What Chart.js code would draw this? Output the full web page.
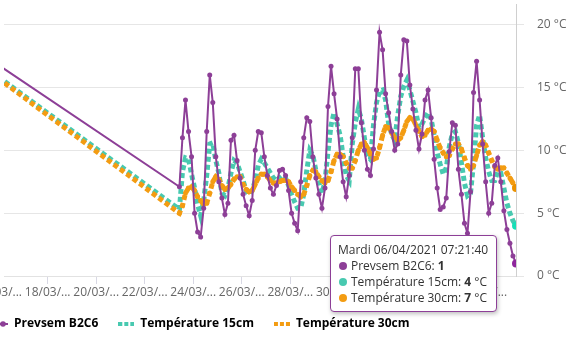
<!DOCTYPE html>
<html>
<head>
<meta charset="utf-8">
<script src="https://cdn.jsdelivr.net/npm/chart.js@4.4.1/dist/chart.umd.min.js"></script>
<style>
    body { margin: 0; background: #fff; }
    #wrap { position: relative; width: 576px; height: 341px; overflow: hidden; }
    #tip {
        position: absolute;
        opacity: 0;
        background: #fff;
        border: 1px solid #8d3f97;
        border-radius: 4px;
        box-shadow: 1px 2px 4px rgba(0, 0, 0, 0.25);
        padding: 6px 8px 5px 7px;
        font: 12px 'Open Sans', sans-serif;
        line-height: 16px;
        color: #333;
        white-space: nowrap;
        pointer-events: none;
    }
    #tip .dot { display: inline-block; width: 8px; height: 8px; border-radius: 50%; margin: 0 4px 0 1px; }
</style>
</head>
<body>
<div id="wrap">
    <canvas id="releves"></canvas>
    <div id="tip"></div>
</div>
<script>
'use strict'

// relevés toutes les 3 h du 23/03 10:21:40 au 06/04 07:21:40,
// précédés du dernier relevé de la période d'avant (hors fenêtre)
var releveAnterieur = Date.UTC(2021, 2, 15, 10, 21, 40);
var premierReleve = Date.UTC(2021, 2, 23, 10, 21, 40);
var pas = 3 * 3600 * 1000;

var prevsem = [17.5,
    7.1, 11.0, 14.0, 11.5, 9.5, 5.0, 3.5, 3.1,
    5.4, 11.5, 16.0, 13.8, 9.5, 7.5, 6.2, 4.9,
    5.8, 10.8, 11.2, 9.2, 7.8, 6.5, 5.6, 4.8,
    6.0, 10.0, 11.5, 11.4, 9.5, 8.0, 7.0, 6.5,
    7.2, 8.4, 8.5, 8.0, 6.8, 5.0, 4.2, 3.6,
    7.5, 11.0, 12.6, 12.3, 9.5, 7.8, 6.5, 5.4,
    7.0, 13.5, 16.7, 14.5, 12.5, 9.5, 7.5, 6.3,
    8.0, 11.0, 16.5, 16.5, 12.2, 10.0, 8.5, 8.0,
    10.1, 14.8, 19.4, 18.0, 14.5, 13.0, 11.5, 10.0,
    10.5, 16.0, 18.8, 18.7, 15.2, 13.3, 11.6, 10.1,
    11.3, 14.0, 14.8, 12.6, 9.3, 7.0, 5.3, 5.5,
    6.2, 9.9, 12.2, 12.0, 8.5, 6.5, 4.2, 3.4,
    6.7, 14.6, 17.1, 14.0, 10.5, 7.5, 5.0, 5.8,
    8.8, 9.4, 7.5, 5.2, 3.7, 2.6, 1.6, 1
];

var temp15 = [16.6,
    5.3, 8.3, 9.4, 9.3, 8.1, 7.0, 5.7, 4.8,
    6.0, 8.0, 10.5, 10.6, 9.2, 8.2, 6.6, 6.4,
    7.0, 8.2, 9.2, 9.0, 8.3, 7.6, 6.8, 6.5,
    6.8, 7.6, 8.8, 9.3, 9.0, 8.6, 8.2, 7.8,
    7.6, 7.8, 8.0, 7.8, 7.2, 6.5, 5.9, 5.4,
    5.4, 6.5, 8.4, 10.0, 9.6, 8.4, 7.4, 6.6,
    7.5, 9.9, 12.0, 13.0, 12.1, 11.2, 9.5, 8.0,
    7.6, 10.5, 12.2, 13.3, 12.5, 11.0, 9.6, 9.3,
    12.0, 13.8, 14.7, 14.8, 14.0, 12.1, 11.3, 10.8,
    12.8, 14.3, 15.1, 15.6, 14.8, 13.9, 13.0, 11.8,
    12.1, 12.6, 13.0, 12.5, 11.2, 9.8, 8.9, 8.1,
    8.6, 10.3, 11.3, 11.5, 10.6, 9.0, 7.4, 6.4,
    6.6, 9.0, 12.0, 12.8, 11.0, 9.4, 8.3, 7.6,
    7.6, 8.3, 8.2, 7.0, 5.8, 5.0, 4.4, 4
];

var temp30 = [16.5,
    5.0, 5.6, 6.6, 7.0, 7.1, 6.8, 6.3, 6.0,
    5.7, 5.8, 6.6, 7.5, 7.9, 7.7, 7.2, 6.9,
    7.0, 7.3, 7.7, 7.9, 7.9, 7.3, 6.9, 6.7,
    6.8, 7.3, 7.8, 8.1, 8.1, 7.9, 7.6, 7.4,
    7.4, 7.5, 7.6, 7.6, 7.5, 7.1, 6.8, 6.5,
    6.3, 6.5, 7.2, 8.0, 8.4, 8.3, 7.9, 7.6,
    7.4, 7.6, 8.3, 9.2, 9.7, 9.7, 9.5, 9.0,
    8.6, 8.6, 9.2, 10.0, 10.5, 10.6, 10.2, 9.7,
    9.3, 9.4, 10.2, 11.2, 11.9, 11.8, 11.4, 11.0,
    10.8, 11.0, 11.6, 12.3, 12.6, 12.5, 12.0, 11.5,
    11.1, 11.2, 11.6, 11.7, 11.5, 10.8, 10.2, 9.8,
    9.5, 9.6, 10.1, 10.5, 10.5, 10.1, 9.4, 8.8,
    8.5, 8.8, 9.6, 10.4, 10.7, 10.4, 9.8, 9.2,
    8.7, 8.5, 8.6, 8.6, 8.2, 7.8, 7.4, 7
];

var times = [releveAnterieur];
for (var i = 1; i < prevsem.length; i++) {
    times.push(premierReleve + (i - 1) * pas);
}

// graduations tous les deux jours
var joursGraduation = [16, 18, 20, 22, 24, 26, 28, 30, 32, 34, 36];
var graduationsX = joursGraduation.map(function (j) { return Date.UTC(2021, 2, j); });
var graduationsY = [0, 5, 10, 15, 20];

var jours = ['Dimanche', 'Lundi', 'Mardi', 'Mercredi', 'Jeudi', 'Vendredi', 'Samedi'];

var series = [
    { label: 'Prevsem B2C6', values: prevsem, color: '#8d3f97', unit: '' },
    { label: 'Température 15cm', values: temp15, color: '#48c9b0', unit: ' °C' },
    { label: 'Température 30cm', values: temp30, color: '#f39c12', unit: ' °C' }
];

function deux(n) { return (n < 10 ? '0' : '') + n; }

function titreBulle(d) {
    return jours[d.getUTCDay()] + ' ' + deux(d.getUTCDate()) + '/' + deux(d.getUTCMonth() + 1) + '/' + d.getUTCFullYear() +
        ' ' + deux(d.getUTCHours()) + ':' + deux(d.getUTCMinutes()) + ':' + deux(d.getUTCSeconds());
}

// pictos de la légende
function picto(couleur, pointille) {
    var c = document.createElement('canvas');
    c.width = 16;
    c.height = 8;
    var g = c.getContext('2d');
    g.fillStyle = couleur;
    if (pointille) {
        g.fillRect(0, 2, 4, 4);
        g.fillRect(6, 2, 4, 4);
        g.fillRect(12, 2, 4, 4);
    } else {
        g.fillRect(0, 3, 16, 2);
        g.beginPath();
        g.arc(11, 4, 2.8, 0, Math.PI * 2);
        g.fill();
    }
    return c;
}
var pictos = [picto(series[0].color, false), picto(series[1].color, true), picto(series[2].color, true)];

function bulle(context) {
    var tip = document.getElementById('tip');
    var t = context.tooltip;
    if (t.opacity === 0) {
        tip.style.opacity = 0;
        return;
    }
    var pts = t.dataPoints.slice().sort(function (a, b) { return a.datasetIndex - b.datasetIndex; });
    var html = '<div>' + titreBulle(new Date(pts[0].parsed.x)) + '</div>';
    pts.forEach(function (p) {
        var s = series[p.datasetIndex];
        html += '<div><span class="dot" style="background:' + s.color + '"></span>' + s.label + ': <b>' + p.parsed.y + '</b>' + s.unit + '</div>';
    });
    tip.innerHTML = html;
    tip.style.left = (t.caretX - 186) + 'px';
    tip.style.top = (context.chart.chartArea.bottom - 41) + 'px';
    tip.style.opacity = 1;
}

// légende calée à gauche, un peu remontée
var placeLegende = {
    id: 'placeLegende',
    afterLayout: function (chart) {
        chart.legend.left = -28;
        chart.legend.top -= 8;
    }
};

Chart.defaults.font.family = "'Open Sans', sans-serif";
Chart.defaults.font.size = 12;
Chart.defaults.color = '#666';

var ctx = document.getElementById('releves').getContext('2d');

var chart = new Chart(ctx, {
    type: 'line',
    data: {
        datasets: [{
                label: series[0].label,
                data: times.map(function (t, i) { return { x: t, y: prevsem[i] }; }),
                borderColor: series[0].color,
                backgroundColor: series[0].color,
                borderWidth: 2,
                pointRadius: 2.5,
                pointHoverRadius: 4,
                pointBorderWidth: 0,
                pointHoverBorderWidth: 0,
                order: 0
            },
            {
                label: series[1].label,
                data: times.map(function (t, i) { return { x: t, y: temp15[i] }; }),
                borderColor: series[1].color,
                backgroundColor: series[1].color,
                borderWidth: 5,
                borderDash: [5, 3],
                pointRadius: 0,
                pointHoverRadius: 4,
                pointHoverBorderWidth: 0,
                order: 2
            },
            {
                label: series[2].label,
                data: times.map(function (t, i) { return { x: t, y: temp30[i] }; }),
                borderColor: series[2].color,
                backgroundColor: series[2].color,
                borderWidth: 5,
                borderDash: [5, 3],
                pointRadius: 2.5,
                pointHoverRadius: 4,
                pointBorderWidth: 0,
                pointHoverBorderWidth: 0,
                order: 1
            }
        ]
    },
    options: {
        responsive: true,
        maintainAspectRatio: false,
        animation: false,
        events: [],
        layout: { padding: 0 },
        scales: {
            x: {
                type: 'linear',
                min: Date.UTC(2021, 2, 16, 4, 48),
                max: times[times.length - 1],
                afterBuildTicks: function (scale) {
                    scale.ticks = graduationsX.map(function (v) { return { value: v }; });
                },
                afterFit: function (scale) {
                    scale.height = 30;
                    scale.paddingLeft = 0;
                    scale.paddingRight = 0;
                },
                ticks: {
                    autoSkip: false,
                    maxRotation: 0,
                    padding: 1,
                    callback: function (v) {
                        var d = new Date(v);
                        return deux(d.getUTCDate()) + '/' + deux(d.getUTCMonth() + 1) + '/...';
                    }
                },
                grid: {
                    drawOnChartArea: false,
                    tickLength: 8,
                    color: '#d8d8e4'
                },
                border: { color: '#e2e2e2' }
            },
            y: {
                position: 'right',
                min: 0,
                max: 21.65,
                afterBuildTicks: function (scale) {
                    scale.ticks = graduationsY.map(function (v) { return { value: v }; });
                },
                afterFit: function (scale) {
                    scale.width = 60;
                    scale.paddingTop = 0;
                    scale.paddingBottom = 0;
                },
                ticks: {
                    padding: 13,
                    callback: function (v) { return v + ' °C'; }
                },
                grid: {
                    color: '#e6e6e6',
                    tickLength: 8
                },
                border: { color: '#cfcfcf' }
            }
        },
        plugins: {
            legend: {
                position: 'bottom',
                align: 'start',
                maxHeight: 35,
                labels: {
                    usePointStyle: true,
                    pointStyleWidth: 16,
                    padding: 20,
                    color: '#333',
                    font: { weight: 'bold', size: 12 },
                    generateLabels: function () {
                        return series.map(function (s, i) {
                            return {
                                text: s.label,
                                fillStyle: s.color,
                                strokeStyle: s.color,
                                pointStyle: pictos[i],
                                datasetIndex: i,
                                hidden: false,
                                lineWidth: 0
                            };
                        });
                    }
                }
            },
            tooltip: {
                enabled: false,
                mode: 'index',
                intersect: false,
                external: bulle
            }
        }
    },
    plugins: [placeLegende]
});

// point affiché : dernier relevé
var dernier = times.length - 1;
var actifs = [0, 1, 2].map(function (d) { return { datasetIndex: d, index: dernier }; });
chart.setActiveElements(actifs);
chart.tooltip.setActiveElements(actifs, { x: 516, y: 260 });
chart.update();
</script>
</body>
</html>
